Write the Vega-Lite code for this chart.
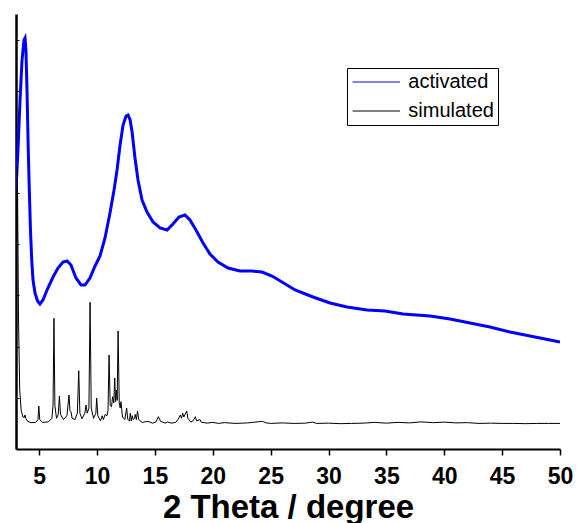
{
  "$schema": "https://vega.github.io/schema/vega-lite/v6.json",
  "width": 544,
  "height": 435,
  "autosize": "none",
  "padding": {"left": 16, "top": 14, "right": 18, "bottom": 74},
  "background": "white",
  "config": {"view": {"stroke": null}, "font": "Liberation Sans"},
  "datasets": {
    "activated": [
      {"t":3.00,"v":10122},{"t":3.17,"v":11685},{"t":3.35,"v":13639},{"t":3.52,"v":15202},{"t":3.69,"v":15984},{"t":3.78,"v":16062},{"t":3.86,"v":15593},{"t":3.95,"v":14030},{"t":4.06,"v":11685},{"t":4.15,"v":10122},{"t":4.25,"v":8559},{"t":4.36,"v":7386},{"t":4.47,"v":6605},{"t":4.64,"v":6096},{"t":4.86,"v":5784},{"t":5.07,"v":5667},{"t":5.33,"v":5823},{"t":5.68,"v":6214},{"t":6.20,"v":6722},{"t":6.63,"v":7073},{"t":7.06,"v":7308},{"t":7.41,"v":7347},{"t":7.75,"v":7191},{"t":8.18,"v":6683},{"t":8.62,"v":6409},{"t":8.96,"v":6409},{"t":9.39,"v":6683},{"t":9.83,"v":7152},{"t":10.26,"v":7542},{"t":10.69,"v":8246},{"t":11.12,"v":9223},{"t":11.47,"v":10122},{"t":11.73,"v":10903},{"t":11.99,"v":11880},{"t":12.25,"v":12662},{"t":12.51,"v":13014},{"t":12.68,"v":13053},{"t":12.86,"v":12857},{"t":13.03,"v":12388},{"t":13.28,"v":11372},{"t":13.54,"v":10513},{"t":13.89,"v":9731},{"t":14.32,"v":9262},{"t":14.84,"v":8871},{"t":15.44,"v":8637},{"t":16.05,"v":8559},{"t":16.56,"v":8793},{"t":17.08,"v":9067},{"t":17.60,"v":9145},{"t":18.03,"v":8949},{"t":18.55,"v":8559},{"t":19.16,"v":8050},{"t":19.76,"v":7621},{"t":20.45,"v":7308},{"t":21.32,"v":7073},{"t":22.35,"v":6956},{"t":23.39,"v":6956},{"t":24.25,"v":6917},{"t":25.12,"v":6761},{"t":25.98,"v":6526},{"t":27.11,"v":6214},{"t":28.66,"v":5940},{"t":30.13,"v":5706},{"t":31.60,"v":5549},{"t":33.33,"v":5432},{"t":34.88,"v":5393},{"t":36.44,"v":5276},{"t":38.77,"v":5198},{"t":40.50,"v":5080},{"t":42.23,"v":4924},{"t":43.95,"v":4768},{"t":45.68,"v":4572},{"t":47.41,"v":4416},{"t":49.14,"v":4260},{"t":50.00,"v":4182}
    ],
    "simulated": [
      {"t":3.02,"v":6000},{"t":3.12,"v":11021},{"t":3.22,"v":5000},{"t":3.32,"v":2300},{"t":3.45,"v":1500},{"t":3.6,"v":1250},{"t":3.72,"v":1230},{"t":3.78,"v":1330},{"t":3.85,"v":1200},{"t":4.0,"v":1080},{"t":4.3,"v":1030},{"t":4.7,"v":1040},{"t":4.9,"v":1150},{"t":4.97,"v":1680},{"t":5.05,"v":1150},{"t":5.3,"v":1040},{"t":5.8,"v":1060},{"t":6.1,"v":1200},{"t":6.2,"v":1700},{"t":6.28,"v":5108},{"t":6.36,"v":1700},{"t":6.5,"v":1200},{"t":6.65,"v":1350},{"t":6.75,"v":2071},{"t":6.85,"v":1350},{"t":7.1,"v":1150},{"t":7.4,"v":1300},{"t":7.58,"v":2110},{"t":7.66,"v":1500},{"t":7.75,"v":1458},{"t":7.85,"v":1200},{"t":8.1,"v":1150},{"t":8.3,"v":1400},{"t":8.42,"v":3060},{"t":8.52,"v":1400},{"t":8.7,"v":1180},{"t":8.95,"v":1400},{"t":9.05,"v":1720},{"t":9.15,"v":1400},{"t":9.3,"v":1600},{"t":9.4,"v":5733},{"t":9.5,"v":1600},{"t":9.7,"v":1200},{"t":9.9,"v":1400},{"t":9.97,"v":1993},{"t":10.07,"v":1300},{"t":10.3,"v":1100},{"t":10.45,"v":1300},{"t":10.55,"v":1150},{"t":10.7,"v":1350},{"t":10.85,"v":1300},{"t":10.95,"v":1500},{"t":11.04,"v":3674},{"t":11.14,"v":1700},{"t":11.25,"v":1650},{"t":11.35,"v":2044},{"t":11.45,"v":1800},{"t":11.53,"v":2775},{"t":11.6,"v":1850},{"t":11.67,"v":2306},{"t":11.74,"v":1900},{"t":11.82,"v":4611},{"t":11.92,"v":1800},{"t":12.0,"v":1600},{"t":12.07,"v":1848},{"t":12.2,"v":1250},{"t":12.4,"v":1150},{"t":12.56,"v":1602},{"t":12.66,"v":1150},{"t":12.8,"v":1100},{"t":12.88,"v":1400},{"t":12.96,"v":1100},{"t":13.05,"v":1300},{"t":13.12,"v":1150},{"t":13.25,"v":1200},{"t":13.3,"v":1350},{"t":13.4,"v":1150},{"t":13.5,"v":1485},{"t":13.6,"v":1150},{"t":13.9,"v":1040},{"t":14.4,"v":1080},{"t":14.8,"v":1010},{"t":15.1,"v":1060},{"t":15.3,"v":1262},{"t":15.5,"v":1080},{"t":15.9,"v":1010},{"t":16.1,"v":1060},{"t":16.4,"v":1010},{"t":16.8,"v":1040},{"t":17.0,"v":1150},{"t":17.2,"v":1329},{"t":17.3,"v":1200},{"t":17.4,"v":1400},{"t":17.5,"v":1250},{"t":17.75,"v":1485},{"t":17.85,"v":1200},{"t":18.1,"v":1050},{"t":18.3,"v":1100},{"t":18.5,"v":1262},{"t":18.6,"v":1100},{"t":18.9,"v":1150},{"t":19.0,"v":1050},{"t":19.5,"v":1010},{"t":20,"v":1040},{"t":20.5,"v":1000},{"t":21,"v":1030},{"t":22,"v":1000},{"t":23,"v":1020},{"t":24.3,"v":1080},{"t":24.6,"v":1020},{"t":25,"v":1000},{"t":26,"v":1020},{"t":27,"v":1000},{"t":28,"v":1010},{"t":28.6,"v":1050},{"t":29,"v":1000},{"t":30,"v":1010},{"t":31,"v":990},{"t":32,"v":1000},{"t":33,"v":1010},{"t":34,"v":1040},{"t":35,"v":1010},{"t":36,"v":1040},{"t":37,"v":1020},{"t":38,"v":1060},{"t":39,"v":1030},{"t":40,"v":1050},{"t":41,"v":1020},{"t":42,"v":1030},{"t":43,"v":1000},{"t":44,"v":1010},{"t":45,"v":1000},{"t":46,"v":1000},{"t":47,"v":990},{"t":48,"v":1000},{"t":49,"v":1000},{"t":50,"v":1000}
    ]
  },
  "layer": [
    {
      "data": {"name": "activated"},
      "transform": [{"calculate": "'activated'", "as": "series"}],
      "mark": {"type": "line", "strokeWidth": 3, "clip": true},
      "encoding": {
        "x": {
          "field": "t", "type": "quantitative",
          "scale": {"domain": [3, 50], "nice": false, "zero": false},
          "axis": {
            "title": "2 Theta / degree",
            "titleFontSize": 33, "titleFontWeight": "bold", "titleColor": "black", "titlePadding": 3,
            "values": [5,7.5,10,12.5,15,17.5,20,22.5,25,27.5,30,32.5,35,37.5,40,42.5,45,47.5,50],
            "labelExpr": "datum.value % 5 === 0 ? datum.label : ''",
            "labelFontSize": 23, "labelFontWeight": "bold", "labelColor": "black", "labelPadding": 10,
            "labelFlush": false, "labelOverlap": false,
            "tickSize": {"condition": {"test": "datum.value % 5 === 0", "value": 6}, "value": 4},
            "tickWidth": 1.5, "tickColor": "black",
            "domainColor": "black", "domainWidth": 2, "grid": false
          }
        },
        "y": {
          "field": "v", "type": "quantitative",
          "scale": {"domain": [0, 17000], "nice": false},
          "axis": {
            "title": null, "labels": false,
            "values": [0,1000,2000,3000,4000,5000,6000,7000,8000,9000,10000,11000,12000,13000,14000,15000,16000,17000],
            "tickSize": -3, "tickWidth": 1, "tickColor": "black",
            "domainColor": "black", "domainWidth": 2.5, "grid": false
          }
        },
        "color": {
          "field": "series", "type": "nominal",
          "scale": {"domain": ["activated", "simulated"], "range": ["#0000ff", "#000000"]},
          "legend": {
            "title": null, "orient": "none", "legendX": 331, "legendY": 54,
            "symbolType": "M-4.74,0H4.74", "symbolSize": 100, "symbolStrokeWidth": 1, "symbolOffset": 15.3,
            "labelFontSize": 20, "labelColor": "black", "labelOffset": 22,
            "strokeColor": "black", "padding": 4, "rowPadding": 9,
            "fillColor": "white", "cornerRadius": 0,
            "encode": {"symbols": {"update": {"strokeWidth": {"value": 1}}}}
          }
        }
      }
    },
    {
      "data": {"name": "simulated"},
      "transform": [{"calculate": "'simulated'", "as": "series"}],
      "mark": {"type": "line", "strokeWidth": 1, "clip": true},
      "encoding": {
        "x": {"field": "t", "type": "quantitative"},
        "y": {"field": "v", "type": "quantitative"},
        "color": {"field": "series", "type": "nominal"}
      }
    }
  ]
}
